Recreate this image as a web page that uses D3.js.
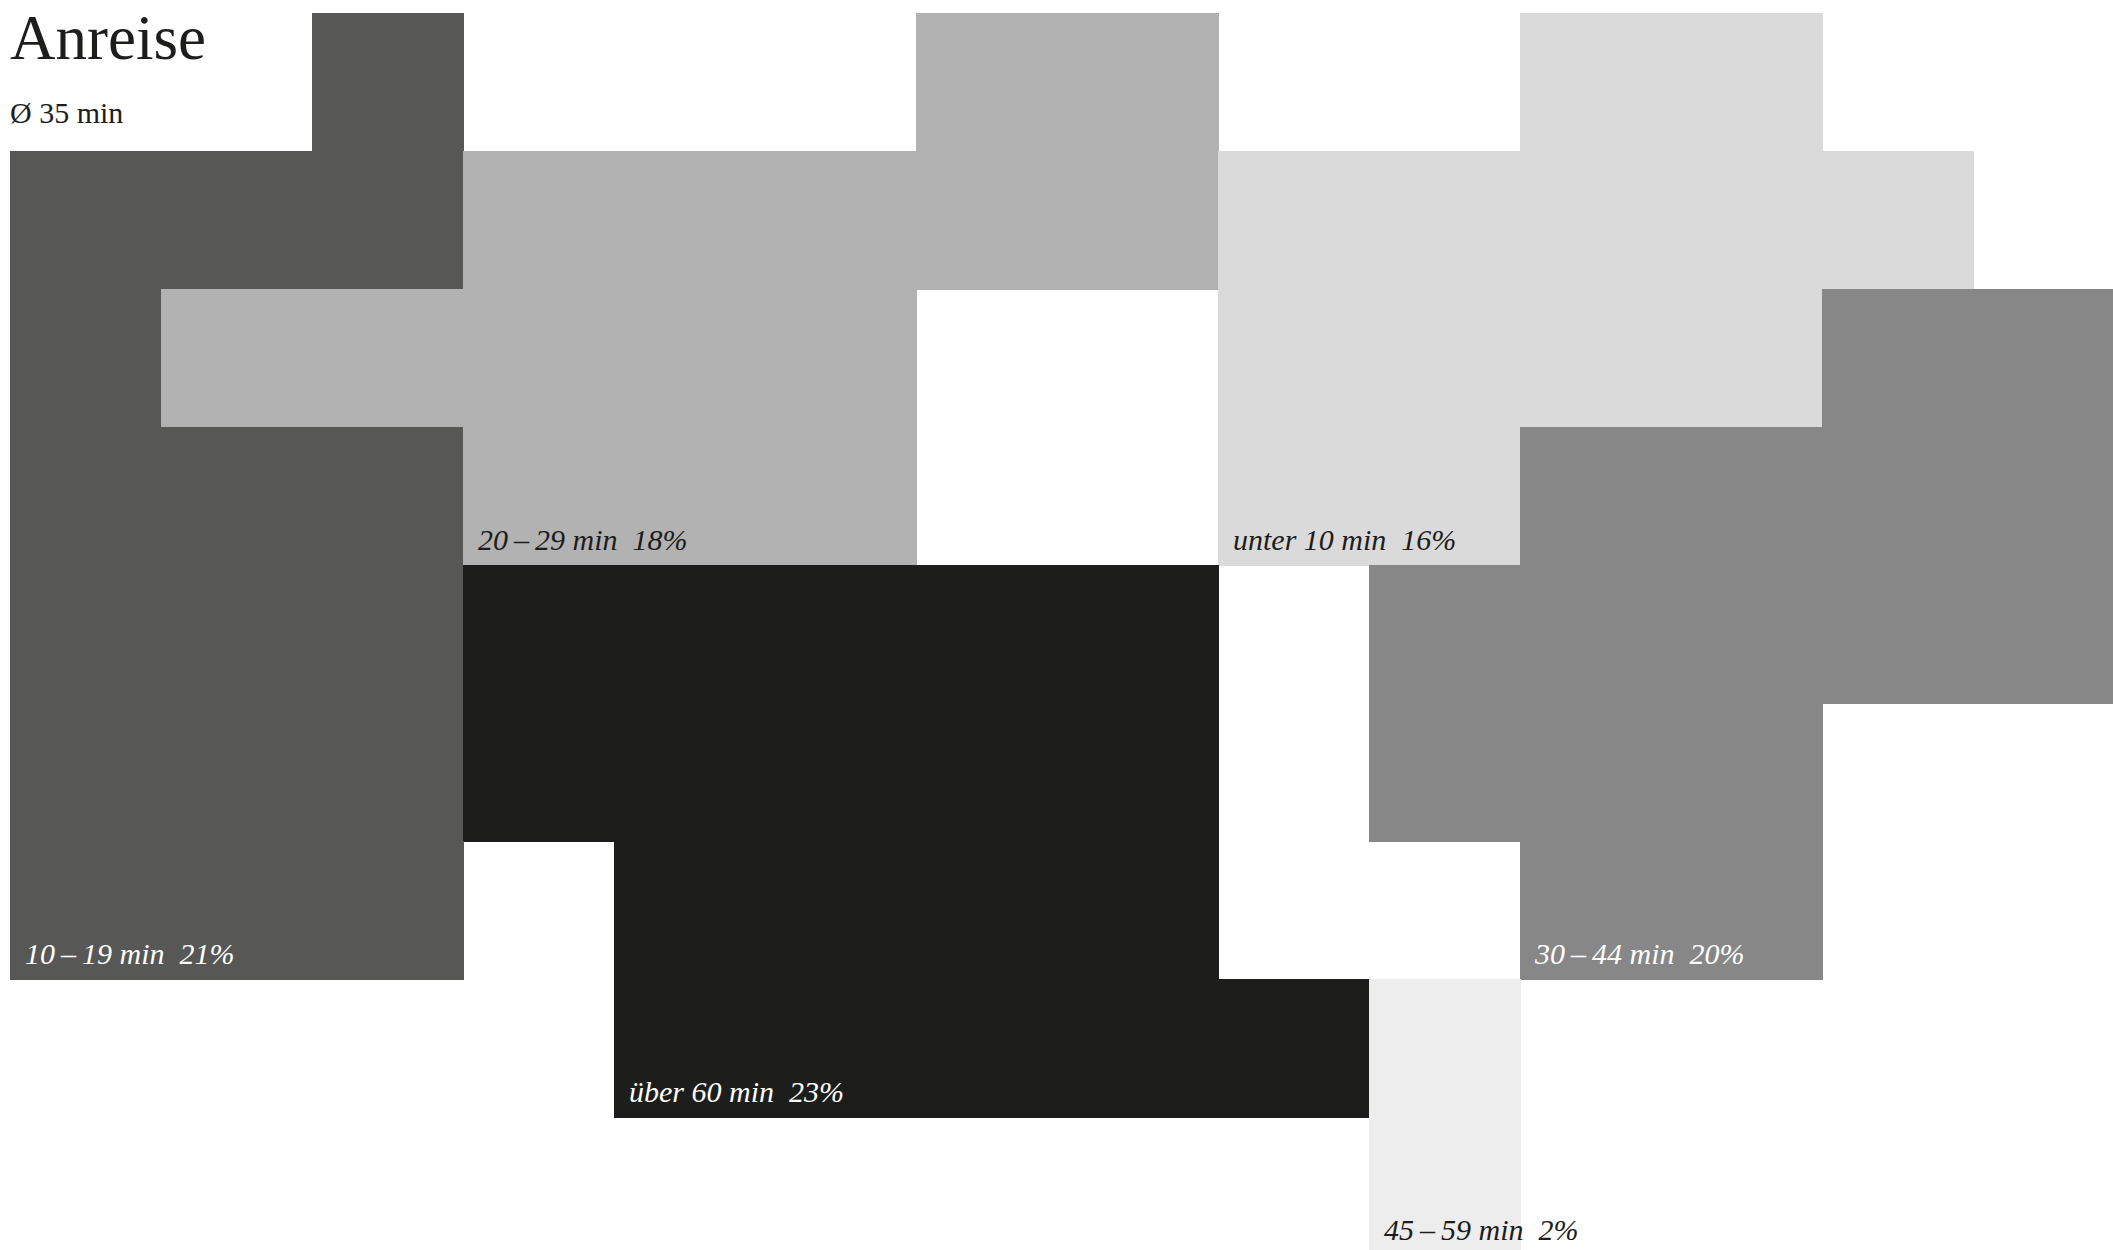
<!DOCTYPE html>
<html>
<head>
<meta charset="utf-8">
<script src="https://cdn.jsdelivr.net/npm/d3@7"></script>
<style>
  html, body { margin: 0; padding: 0; background: #fff; }
  svg { display: block; }
</style>
</head>
<body>
<svg id="chart" width="2113" height="1250"></svg>
<script>
// ---- data ----
const title = "Anreise";
const subtitle = "Ø 35 min";
const codes = ["A", "B", "C", "D", "E", "F"];
const categories = ["10\u2009–\u200919 min", "20\u2009–\u200929 min", "unter 10 min", "30\u2009–\u200944 min", "über 60 min", "45\u2009–\u200959 min"];
const percentages = [21, 18, 16, 20, 23, 2];
const fills = ["#575756", "#b2b2b2", "#dadada", "#878787", "#1d1d1b", "#ededed"];
const labelColors = ["#ffffff", "#1d1d1b", "#1d1d1b", "#ffffff", "#ffffff", "#1d1d1b"];
// grid layout: one character per cell, "." = empty
const layout = [
  "..A...BB..CC..",
  "AAABBBBBCCCCC.",
  "ABBBBB..CCCCDD",
  "AAABBB..CCDDDD",
  "AAAEEEEE.DDDDD",
  "AAAEEEEE.DDD..",
  "AAA.EEEE..DD..",
  "....EEEEEF....",
  ".........F...."
];

// ---- build cells ----
const cells = [];
layout.forEach((row, r) => {
  row.split("").forEach((ch, c) => {
    const k = codes.indexOf(ch);
    if (k >= 0) cells.push({ row: r, col: c, k });
  });
});

const nCols = layout[0].length, nRows = layout.length;
const cellW = 151, cellH = 138, x0 = 10, y0 = 13;
const x = d3.scaleBand().domain(d3.range(nCols)).range([x0, x0 + nCols * cellW]).padding(0);
const y = d3.scaleBand().domain(d3.range(nRows)).range([y0, y0 + nRows * cellH]).padding(0);

const svg = d3.select("#chart");

svg.append("g").selectAll("rect")
  .data(cells)
  .join("rect")
  .attr("x", d => x(d.col))
  .attr("y", d => y(d.row))
  .attr("width", x.bandwidth() + 0.5)
  .attr("height", y.bandwidth() + 0.5)
  .attr("fill", d => fills[d.k])
  .attr("shape-rendering", "crispEdges");

// label anchor: bottom-most row, left-most cell of each category
const anchors = codes.map((code, k) => {
  const mine = cells.filter(c => c.k === k);
  const maxRow = d3.max(mine, c => c.row);
  const minCol = d3.min(mine.filter(c => c.row === maxRow), c => c.col);
  return { k, row: maxRow, col: minCol };
});

svg.append("g").selectAll("text")
  .data(anchors)
  .join("text")
  .attr("x", d => x(d.col) + 15)
  .attr("y", d => y(d.row) + y.bandwidth() - 15)
  .attr("fill", d => labelColors[d.k])
  .style("font-family", "'Liberation Serif', 'DejaVu Serif', serif")
  .style("font-style", "italic")
  .style("font-size", "30px")
  .style("white-space", "pre")
  .text(d => categories[d.k] + "  " + percentages[d.k] + "%");

svg.append("text")
  .attr("x", 10)
  .attr("y", 59)
  .attr("fill", "#1d1d1b")
  .style("font-family", "'Liberation Serif', 'DejaVu Serif', serif")
  .style("font-size", "63px")
  .text(title);

svg.append("text")
  .attr("x", 10)
  .attr("y", 123)
  .attr("fill", "#1d1d1b")
  .style("font-family", "'Liberation Serif', 'DejaVu Serif', serif")
  .style("font-size", "30px")
  .text(subtitle);
</script>
</body>
</html>
